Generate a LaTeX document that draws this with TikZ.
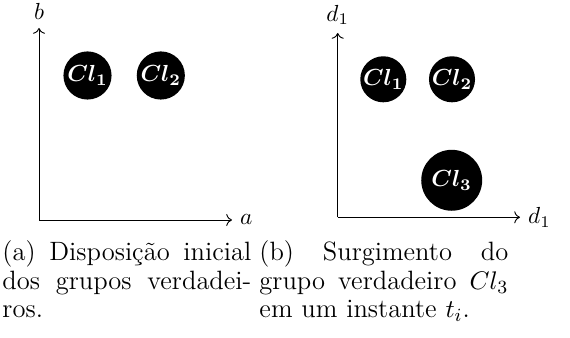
\documentclass[tikz,border=0pt]{standalone}
\usepackage{amsmath}
\usepackage{fontspec}
\usepackage{tikz}
\usetikzlibrary{positioning, arrows.meta}
\newcommand{\linhaleg}[1]{\leavevmode\hbox to 107pt{#1}}
\tikzset{
  grupo/.style={circle, fill=black, text=white, inner sep=0pt, minimum size=20.7pt, font=\boldmath},
  grupogrande/.style={grupo, minimum size=26.2pt},
  eixo/.style={->},
  legenda/.style={text width=107pt, align=left, inner sep=0pt, anchor=base west, font=\fontsize{11.4}{12.2}\selectfont}
}

\begin{document}
\begin{tikzpicture}[x=0.43pt, y=-0.43pt]
    \useasboundingbox (0,0) rectangle (570,338);

    % (a) disposicao inicial
    \coordinate (origemA) at (39,220);
    \coordinate (topoA) at (39,28);
    \coordinate (fimA) at (232,220);
    \draw [eixo] (origemA) -- (topoA);
    \draw [eixo] (origemA) -- (fimA);
    \node (rotuloB) [above=0pt of topoA] {$b$};
    \node (rotuloA) [right=0pt of fimA] {$a$};
    \node (cl1A) [grupo] at (87.5,75.5) {$Cl_1$};
    \node (cl2A) [grupo] at (160.8,75.5) {$Cl_2$};
    \node (legA) [legenda] at (2,261) {\linhaleg{(a) \hfill Disposição \hfill inicial}\\ \linhaleg{dos \hfill grupos \hfill verdadei-}\\ ros.};

    % (b) surgimento de Cl_3
    \coordinate (origemB) at (337.7,217.3);
    \coordinate (topoB) at (337.7,33);
    \coordinate (fimB) at (520,217.3);
    \draw [eixo] (origemB) -- (topoB);
    \draw [eixo] (origemB) -- (fimB);
    \node (rotuloD1y) [above=0pt of topoB] {$d_1$};
    \node (rotuloD1x) [right=0pt of fimB] {$d_1$};
    \node (cl1B) [grupo, minimum size=19.8pt] at (383.3,79.3) {$Cl_1$};
    \node (cl2B) [grupo, minimum size=19.8pt] at (452,79.3) {$Cl_2$};
    \node (cl3B) [grupogrande] at (451.7,180.3) {$Cl_3$};
    \node (legB) [legenda] at (259,261) {\linhaleg{(b) \hfill Surgimento \hfill do}\\ \linhaleg{grupo \hfill verdadeiro \hfill $Cl_3$}\\ em um instante $t_i$.};
\end{tikzpicture}
\end{document}
